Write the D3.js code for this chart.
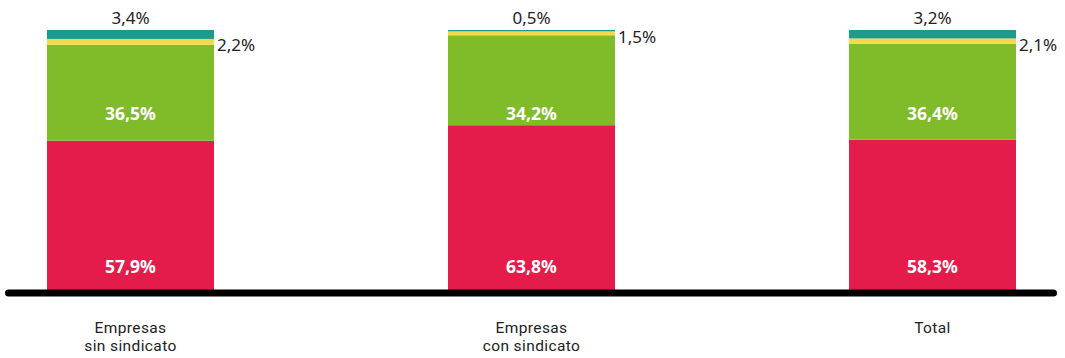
<!DOCTYPE html>
<html>
<head>
<meta charset="utf-8">
<script src="https://cdn.jsdelivr.net/npm/d3@7/dist/d3.min.js"></script>
<style>
  html, body { margin: 0; padding: 0; background: #fff; }
  svg { display: block; font-family: "Noto Sans", "Open Sans", sans-serif; }
</style>
</head>
<body>
<svg id="chart" width="1065" height="358"></svg>
<script>
// Categories (two-line labels) and stacked series values, in percent
const categories = ["Empresas\nsin sindicato", "Empresas\ncon sindicato", "Total"];
const seriesRed    = [57.9, 63.8, 58.3];
const seriesGreen  = [36.5, 34.2, 36.4];
const seriesYellow = [2.2, 1.5, 2.1];
const seriesTeal   = [3.4, 0.5, 3.2];

const seriesKeys   = ["red", "green", "yellow", "teal"];
const seriesColors = ["#e41c4b", "#80bb2a", "#f6d84a", "#1f9a8a"];

const rows = categories.map((c, i) => ({
  cat: c,
  red: seriesRed[i],
  green: seriesGreen[i],
  yellow: seriesYellow[i],
  teal: seriesTeal[i]
}));

const fmt = v => d3.format(".1f")(v).replace(".", ",") + "%";

const svg = d3.select("#chart");

const x = d3.scaleBand()
  .domain(categories)
  .range([47, 1016])
  .paddingInner(0.5835)
  .paddingOuter(0);

const y = d3.scaleLinear().domain([0, 100]).range([293, 30]);

const layers = d3.stack().keys(seriesKeys)(rows);

const color = d3.scaleOrdinal().domain(seriesKeys).range(seriesColors);

// Stacked bars
svg.append("g").selectAll("g")
  .data(layers)
  .join("g")
  .attr("fill", d => color(d.key))
  .selectAll("rect")
  .data(d => d)
  .join("rect")
  .attr("x", d => x(d.data.cat))
  .attr("y", d => y(d[1]))
  .attr("width", x.bandwidth())
  .attr("height", d => y(d[0]) - y(d[1]));

// Value labels inside the two large segments (white, bold), on a common level
const innerLabelLevel = { red: 9.6, green: 67.7 };
["red", "green"].forEach(k => {
  svg.append("g").selectAll("text")
    .data(rows)
    .join("text")
    .attr("x", d => x(d.cat) + x.bandwidth() / 2)
    .attr("y", y(innerLabelLevel[k]))
    .attr("text-anchor", "middle")
    .attr("dominant-baseline", "middle")
    .attr("fill", "#fff")
    .attr("font-weight", "bold")
    .attr("font-size", 17.5)
    .text(d => fmt(d[k]));
});

// Top segment labels, centred above each bar
svg.append("g").selectAll("text")
  .data(layers[3])
  .join("text")
  .attr("x", d => x(d.data.cat) + x.bandwidth() / 2)
  .attr("y", d => y(d[1]) - 11)
  .attr("text-anchor", "middle")
  .attr("dominant-baseline", "middle")
  .attr("fill", "#222")
  .attr("font-size", 17)
  .text(d => fmt(d.data.teal));

// Small yellow segment labels, to the right of each bar
svg.append("g").selectAll("text")
  .data(layers[2])
  .join("text")
  .attr("x", d => x(d.data.cat) + x.bandwidth() + 3)
  .attr("y", d => (y(d[0]) + y(d[1])) / 2 + 5)
  .attr("text-anchor", "start")
  .attr("dominant-baseline", "middle")
  .attr("fill", "#222")
  .attr("font-size", 17)
  .text(d => fmt(d.data.yellow));

// Baseline
svg.append("line")
  .attr("x1", 8.5).attr("x2", 1053.5)
  .attr("y1", y(0)).attr("y2", y(0))
  .attr("stroke", "#000")
  .attr("stroke-width", 7)
  .attr("stroke-linecap", "round");

// Category labels, one text element per line
const catLines = categories.flatMap(c =>
  c.split("\n").map((t, i) => ({ cat: c, text: t, line: i })));
svg.append("g").selectAll("text")
  .data(catLines)
  .join("text")
  .attr("x", d => x(d.cat) + x.bandwidth() / 2)
  .attr("y", d => 333 + d.line * 18)
  .attr("text-anchor", "middle")
  .attr("fill", "#222")
  .attr("font-family", "Roboto, sans-serif")
  .attr("font-size", 15.5)
  .attr("letter-spacing", 0.4)
  .text(d => d.text);
</script>
</body>
</html>
